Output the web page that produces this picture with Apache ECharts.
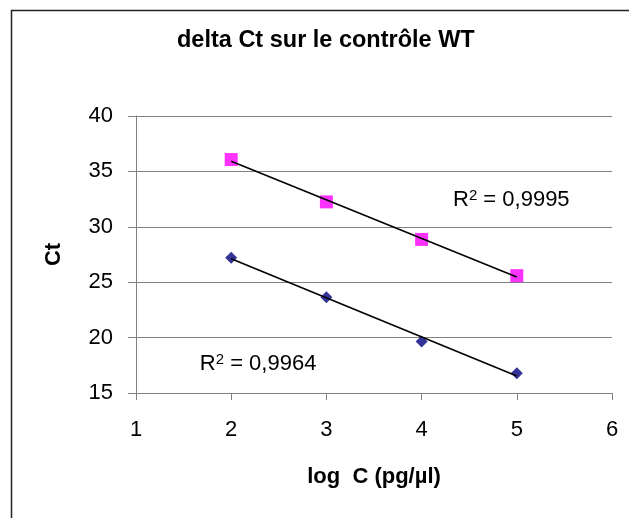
<!DOCTYPE html>
<html>
<head>
<meta charset="utf-8">
<script src="https://cdn.jsdelivr.net/npm/echarts@6/dist/echarts.min.js"></script>
<style>
html,body{margin:0;padding:0;background:#fff;}
#chart{width:629px;height:518px;}
</style>
</head>
<body>
<div id="chart"></div>
<script>
// ---- data ----
const titleText = 'delta Ct sur le contrôle WT';
const xAxisName = 'log  C (pg/µl)';
const yAxisName = 'Ct';
const logC = [2, 3, 4, 5];
const ctPink = [36.07, 32.25, 28.86, 25.59];
const ctBlue = [27.21, 23.64, 19.64, 16.79];
const r2PinkValue = '0,9995';
const r2BlueValue = '0,9964';

// linear least-squares trendline (as Excel draws it)
function trend(xs, ys) {
  const n = xs.length;
  const mx = xs.reduce((a, b) => a + b, 0) / n;
  const my = ys.reduce((a, b) => a + b, 0) / n;
  let sxy = 0, sxx = 0;
  for (let i = 0; i < n; i++) { sxy += (xs[i] - mx) * (ys[i] - my); sxx += (xs[i] - mx) ** 2; }
  const b = sxy / sxx, a = my - b * mx;
  const x0 = Math.min(...xs), x1 = Math.max(...xs);
  return [[x0, a + b * x0], [x1, a + b * x1]];
}

const FONT = '"Liberation Sans", Arial, sans-serif';
const r2Rich = {
  r: { fontFamily: FONT, fontSize: 22, color: '#000', lineHeight: 24 },
  s: { fontFamily: FONT, fontSize: 15, color: '#000', verticalAlign: 'top', lineHeight: 15 }
};
function r2Label(v) { return '{r|R}{s|2}{r| = ' + v + '}'; }

const chart = echarts.init(document.getElementById('chart'));
const option = {
  animation: false,
  backgroundColor: '#fff',
  title: {
    text: titleText,
    left: 177,
    top: 29,
    padding: 0,
    textStyle: { fontFamily: FONT, fontSize: 23.5, fontWeight: 'bold', color: '#000' }
  },
  grid: { left: 136, right: 17, top: 116, bottom: 125 },
  xAxis: {
    type: 'value', min: 1, max: 6, interval: 1,
    name: xAxisName, nameLocation: 'middle', nameGap: 73,
    nameTextStyle: { fontFamily: FONT, fontSize: 22, fontWeight: 'bold', color: '#000' },
    axisLine: { show: true, onZero: false, lineStyle: { color: '#808080', width: 1 } },
    axisTick: { show: true, length: 7, lineStyle: { color: '#808080' } },
    axisLabel: { margin: 26, fontFamily: FONT, fontSize: 22, color: '#000' },
    splitLine: { show: false }
  },
  yAxis: {
    type: 'value', min: 15, max: 40, interval: 5,
    name: yAxisName, nameLocation: 'middle', nameGap: 71, nameRotate: 90,
    nameTextStyle: { fontFamily: FONT, fontSize: 22, fontWeight: 'bold', color: '#000' },
    axisLine: { show: true, lineStyle: { color: '#808080', width: 1 } },
    axisTick: { show: true, length: 8, lineStyle: { color: '#808080' } },
    axisLabel: { margin: 23, fontFamily: FONT, fontSize: 22, color: '#000' },
    splitLine: { show: true, lineStyle: { color: '#808080', width: 1 } }
  },
  graphic: [{
    type: 'rect', silent: true, z: 100,
    shape: { x: 11.5, y: 10.5, width: 900, height: 900 },
    style: { fill: 'none', stroke: '#222', lineWidth: 1.5 }
  }],
  series: [
    {
      name: 'pink', type: 'scatter', symbol: 'rect', symbolSize: 13,
      itemStyle: { color: '#FF00FF' }, z: 2,
      data: logC.map((x, i) => [x, ctPink[i]])
    },
    {
      name: 'blue', type: 'scatter', symbol: 'diamond', symbolSize: 12,
      itemStyle: { color: '#000080' }, z: 2,
      data: logC.map((x, i) => [x, ctBlue[i]])
    },
    {
      name: 'pinkTrend', type: 'line', symbol: 'none', z: 3,
      lineStyle: { color: '#000', width: 1.6 },
      data: trend(logC, ctPink),
      markPoint: {
        symbol: 'circle', symbolSize: 0,
        label: { show: true, position: 'right', distance: 0, formatter: r2Label(r2PinkValue), rich: r2Rich },
        data: [{ coord: [4.33, 32.4] }]
      }
    },
    {
      name: 'blueTrend', type: 'line', symbol: 'none', z: 3,
      lineStyle: { color: '#000', width: 1.6 },
      data: trend(logC, ctBlue),
      markPoint: {
        symbol: 'circle', symbolSize: 0,
        label: { show: true, position: 'right', distance: 0, formatter: r2Label(r2BlueValue), rich: r2Rich },
        data: [{ coord: [1.67, 17.6] }]
      }
    }
  ]
};
chart.setOption(option);
</script>
</body>
</html>
